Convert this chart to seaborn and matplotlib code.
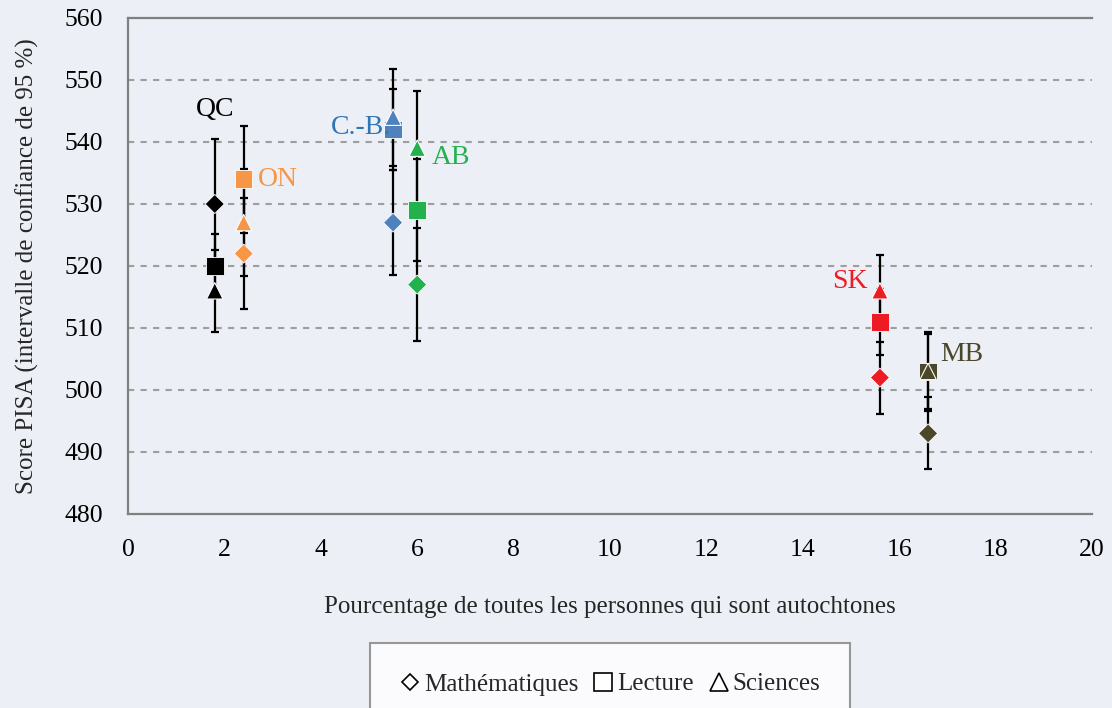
import matplotlib
matplotlib.use("Agg")
import matplotlib.pyplot as plt
import seaborn as sns
import pandas as pd
from matplotlib.lines import Line2D

# ---- data ----
provinces = ["QC", "ON", "C.-B.", "AB", "SK", "MB"]
pct_autochtones = [1.8, 2.4, 5.5, 6.0, 15.6, 16.6]

math_score = [530, 522, 527, 517, 502, 493]
math_lo = [519.5, 513.0, 518.5, 507.9, 496.2, 487.2]
math_hi = [540.5, 531.0, 535.5, 526.1, 507.8, 498.8]

read_score = [520, 534, 542, 529, 511, 503]
read_lo = [514.8, 525.4, 535.5, 520.8, 505.7, 496.6]
read_hi = [525.2, 542.6, 548.5, 537.2, 516.3, 509.4]

sci_score = [516, 527, 544, 539, 516, 503]
sci_lo = [509.4, 518.4, 536.1, 529.7, 510.2, 497.0]
sci_hi = [522.6, 535.6, 551.8, 548.3, 521.8, 509.0]

x_ticks = [0, 2, 4, 6, 8, 10, 12, 14, 16, 18, 20]
y_ticks = [480, 490, 500, 510, 520, 530, 540, 550, 560]
legend_labels = ["Mathématiques", "Lecture", "Sciences"]

# ---- style ----
bg = "#eceff6"
sns.set_theme(style="white")
plt.rcParams["font.family"] = ["Liberation Serif", "DejaVu Serif"]
plt.rcParams["axes.facecolor"] = bg
plt.rcParams["figure.facecolor"] = bg

marker_colors = {"QC": "#000000", "ON": "#f79646", "C.-B.": "#4f81bd",
                 "AB": "#22b14c", "SK": "#ed1c24", "MB": "#4b4729"}
text_colors = {"QC": "#000000", "ON": "#f79646", "C.-B.": "#2e75b6",
               "AB": "#22b14c", "SK": "#ed1c24", "MB": "#4b4729"}

fig = plt.figure(figsize=(11.12, 7.08), dpi=100)
ax = fig.add_axes([128 / 1112, 1 - 514 / 708, (1092 - 128) / 1112, (514 - 18) / 708])

df_m = pd.DataFrame({"prov": provinces, "x": pct_autochtones, "y": math_score, "lo": math_lo, "hi": math_hi})
df_r = pd.DataFrame({"prov": provinces, "x": pct_autochtones, "y": read_score, "lo": read_lo, "hi": read_hi})
df_s = pd.DataFrame({"prov": provinces, "x": pct_autochtones, "y": sci_score, "lo": sci_lo, "hi": sci_hi})

# error bars
for d in (df_m, df_r, df_s):
    ax.errorbar(d["x"], d["y"], yerr=[d["y"] - d["lo"], d["hi"] - d["y"]],
                fmt="none", ecolor="black", elinewidth=1.6, capsize=3, capthick=1.6, zorder=2)

sns.scatterplot(data=df_m, x="x", y="y", hue="prov", palette=marker_colors, marker="D",
                s=95, edgecolor="white", linewidth=0.6, legend=False, ax=ax, zorder=3)
sns.scatterplot(data=df_r, x="x", y="y", hue="prov", palette=marker_colors, marker="s",
                s=160, edgecolor="white", linewidth=0.6, legend=False, ax=ax, zorder=3)
sns.scatterplot(data=df_s, x="x", y="y", hue="prov", palette=marker_colors, marker="^",
                s=140, edgecolor="white", linewidth=0.8, legend=False, ax=ax, zorder=4)

# province labels
label_pos = {"QC": (1.8, 543.3, "center", "bottom"),
             "ON": (2.7, 534, "left", "center"),
             "C.-B.": (5.45, 542.3, "right", "center"),
             "AB": (6.3, 537.5, "left", "center"),
             "SK": (15.35, 517.5, "right", "center"),
             "MB": (16.85, 505.8, "left", "center")}
for p in provinces:
    x, y, ha, va = label_pos[p]
    ax.text(x, y, p, color=text_colors[p], fontsize=20, ha=ha, va=va, zorder=5)

ax.set_xlim(0, 20)
ax.set_ylim(480, 560)
ax.set_xticks(x_ticks)
ax.set_yticks(y_ticks)
ax.tick_params(axis="both", labelsize=18.5, colors="#7f7f7f", labelcolor="black",
               direction="out", length=7, width=1.5, pad=11)
for g in [490, 500, 510, 520, 530, 540, 550]:
    ax.axhline(g, color="#9e9e9e", lw=1.5, ls=(0, (3, 3)), zorder=1)
for side in ["left", "bottom", "top"]:
    ax.spines[side].set_color("#808080")
    ax.spines[side].set_linewidth(1.6)
ax.spines["right"].set_visible(False)

ax.set_xlabel("Pourcentage de toutes les personnes qui sont autochtones", fontsize=18, labelpad=25)
ax.set_ylabel("Score PISA (intervalle de confiance de 95 %)", fontsize=18, labelpad=18)

handles = [Line2D([], [], ls="none", marker="D", markersize=8, mfc="white", mec="black", mew=1.2),
           Line2D([], [], ls="none", marker="s", markersize=13, mfc="white", mec="black", mew=1.2),
           Line2D([], [], ls="none", marker="^", markersize=13, mfc="white", mec="black", mew=1.2)]
leg = fig.legend(handles, legend_labels, loc="upper center", bbox_to_anchor=(610 / 1112, 1 - 643 / 708),
                 ncol=3, fontsize=18, frameon=True, fancybox=False, borderpad=1.2, borderaxespad=0,
                 handlelength=0.8, handletextpad=0.15, columnspacing=0.6)
leg.get_frame().set_edgecolor("#808080")
leg.get_frame().set_linewidth(1.5)
leg.get_frame().set_facecolor("white")
leg._legend_box.sep = 0

fig.savefig("out.png", dpi=100, facecolor=bg)
